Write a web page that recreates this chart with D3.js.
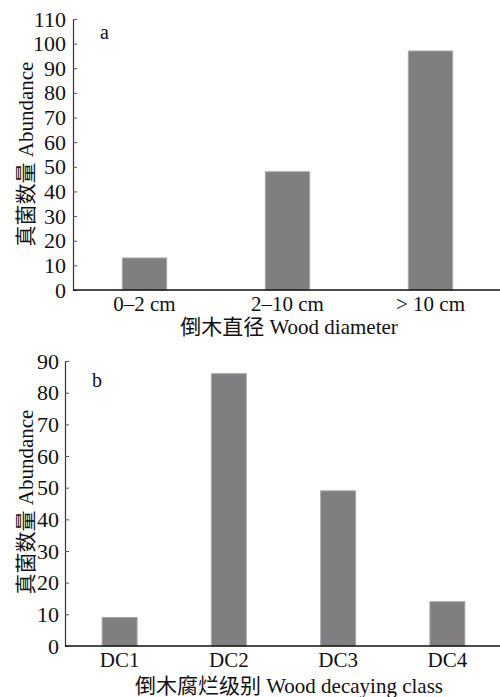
<!DOCTYPE html>
<html>
<head>
<meta charset="utf-8">
<script src="https://cdn.jsdelivr.net/npm/d3@7/dist/d3.min.js"></script>
<style>
  html, body { margin: 0; padding: 0; background: #fff; }
  svg { display: block; }
  text { font-family: "Liberation Serif", "Times New Roman", "Noto Sans CJK SC", serif; fill: #111; }
</style>
</head>
<body>
<svg id="chart" width="500" height="697"></svg>
<script>
// Panel a: fungal abundance by log diameter class
const diameterClasses = ["0–2 cm", "2–10 cm", "> 10 cm"];
const diameterAbundance = [13, 48, 97];
const diameterTicks = [0, 10, 20, 30, 40, 50, 60, 70, 80, 90, 100, 110];

// Panel b: fungal abundance by log decay class
const decayClasses = ["DC1", "DC2", "DC3", "DC4"];
const decayAbundance = [9, 86, 49, 14];
const decayTicks = [0, 10, 20, 30, 40, 50, 60, 70, 80, 90];

const yTitle = "真菌数量 Abundance";

const svg = d3.select("#chart");

function drawPanel(cfg) {
  const g = svg.append("g");
  const x = d3.scaleBand()
    .domain(cfg.categories)
    .range([cfg.left, cfg.right])
    .paddingInner(cfg.pad)
    .paddingOuter(cfg.pad / 2);
  const y = d3.scaleLinear()
    .domain([0, cfg.yMax])
    .range([cfg.bottom, cfg.top]);

  // bars
  g.selectAll("rect.bar")
    .data(cfg.values)
    .join("rect")
    .attr("class", "bar")
    .attr("x", (d, i) => x(cfg.categories[i]))
    .attr("width", x.bandwidth())
    .attr("y", d => y(d))
    .attr("height", d => y(0) - y(d))
    .attr("fill", "#807e81")
    .attr("stroke", "#a8a8a8")
    .attr("stroke-width", 1);

  // y axis with short inward ticks
  const yAxis = g.append("g")
    .attr("transform", `translate(${cfg.left},0)`)
    .call(d3.axisLeft(y).tickValues(cfg.ticks).tickSize(0).tickPadding(cfg.labelGap));
  yAxis.select(".domain").attr("stroke", "#333").attr("stroke-width", 1.2);
  yAxis.selectAll(".tick text").style("font-size", "22px").attr("fill", "#111");
  yAxis.selectAll(".tick")
    .append("line")
    .attr("x1", 0).attr("x2", 4)
    .attr("stroke", "#555").attr("stroke-width", 1);

  // x axis running to the right edge
  const xAxis = g.append("g")
    .attr("transform", `translate(0,${cfg.bottom})`)
    .call(d3.axisBottom(x).tickSize(0).tickPadding(6));
  xAxis.select(".domain").attr("stroke", "#111").attr("stroke-width", 1.5)
    .attr("d", `M${cfg.left},0H500`);
  xAxis.selectAll(".tick text").style("font-size", "21px").attr("fill", "#111");

  // panel letter
  g.append("text")
    .attr("x", cfg.letterX).attr("y", cfg.letterY)
    .style("font-size", "20px")
    .text(cfg.letter);

  // axis titles
  g.append("text")
    .attr("transform", `translate(33,${cfg.yTitleY}) rotate(-90)`)
    .attr("text-anchor", "middle")
    .style("font-size", "21px")
    .text(yTitle);
  g.append("text")
    .attr("x", 289).attr("y", cfg.xTitleY)
    .attr("text-anchor", "middle")
    .style("font-size", "21px")
    .text(cfg.xTitle);
}

drawPanel({
  categories: diameterClasses, values: diameterAbundance, ticks: diameterTicks,
  yMax: 110, left: 73, right: 502, top: 19, bottom: 290, pad: 0.69,
  labelGap: 7, letter: "a", letterX: 100, letterY: 39, yTitleY: 154,
  xTitle: "倒木直径 Wood diameter", xTitleY: 334
});

drawPanel({
  categories: decayClasses, values: decayAbundance, ticks: decayTicks,
  yMax: 90, left: 65, right: 502, top: 361, bottom: 646, pad: 0.68,
  labelGap: 6, letter: "b", letterX: 92, letterY: 387, yTitleY: 502,
  xTitle: "倒木腐烂级别 Wood decaying class", xTitleY: 693
});
</script>
</body>
</html>
